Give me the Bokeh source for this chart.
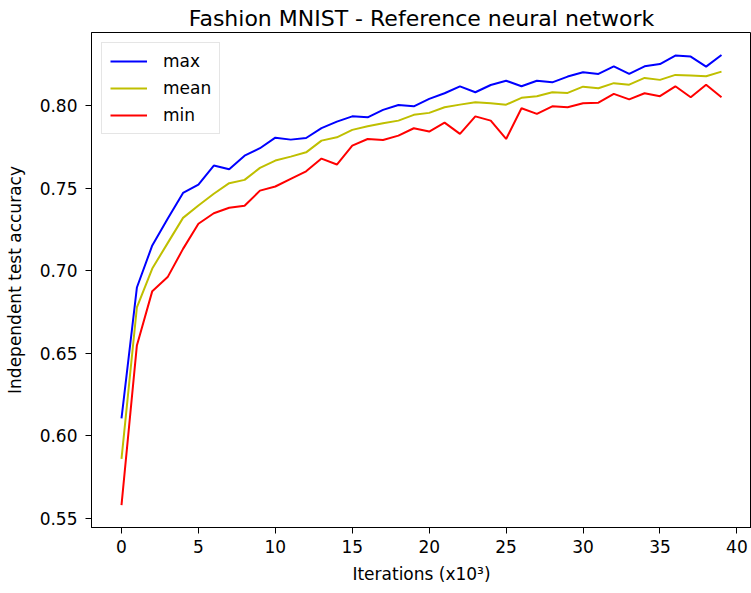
from bokeh.plotting import figure
from bokeh.embed import file_html
from bokeh.resources import INLINE
from bokeh.models import Range1d, SingleIntervalTicker, NumeralTickFormatter, Legend, LegendItem

iterations = list(range(40))
max_acc = [0.6105, 0.6898, 0.7153, 0.7314, 0.7471, 0.7522, 0.7637, 0.7615, 0.7697, 0.7742,
           0.7806, 0.7794, 0.7804, 0.7864, 0.7903, 0.7935, 0.7929, 0.7974, 0.8004, 0.7996,
           0.8041, 0.8075, 0.8117, 0.8081, 0.8125, 0.8151, 0.8117, 0.8151, 0.8141, 0.8176,
           0.8202, 0.8192, 0.8238, 0.8192, 0.8238, 0.8252, 0.8303, 0.8297, 0.8236, 0.8307]
mean_acc = [0.5860, 0.6777, 0.7013, 0.7167, 0.7320, 0.7395, 0.7466, 0.7530, 0.7550, 0.7623,
            0.7667, 0.7691, 0.7717, 0.7788, 0.7808, 0.7853, 0.7875, 0.7893, 0.7909, 0.7944,
            0.7956, 0.7990, 0.8006, 0.8020, 0.8014, 0.8006, 0.8047, 0.8057, 0.8081, 0.8077,
            0.8115, 0.8105, 0.8136, 0.8127, 0.8168, 0.8156, 0.8186, 0.8182, 0.8178, 0.8206]
min_acc = [0.5580, 0.6547, 0.6876, 0.6961, 0.7132, 0.7284, 0.7348, 0.7381, 0.7393, 0.7485,
           0.7510, 0.7556, 0.7602, 0.7679, 0.7643, 0.7758, 0.7798, 0.7792, 0.7818, 0.7863,
           0.7843, 0.7897, 0.7829, 0.7935, 0.7909, 0.7798, 0.7984, 0.7950, 0.7996, 0.7990,
           0.8014, 0.8018, 0.8071, 0.8038, 0.8075, 0.8057, 0.8117, 0.8051, 0.8127, 0.8051]
series_names = ["max", "mean", "min"]
series_colors = ["#0000ff", "#bfbf00", "#ff0000"]

FONT = "DejaVu Sans"

p = figure(width=751, height=593, output_backend="svg", toolbar_location=None,
           x_range=Range1d(-1.95, 40.95), y_range=Range1d(0.5444, 0.8443),
           title="Fashion MNIST - Reference neural network")
p.min_border_left = 91
p.min_border_right = 0
p.min_border_top = 32
p.min_border_bottom = 66

p.title.align = "center"
p.title.text_font = FONT
p.title.text_font_size = "22px"
p.title.text_font_style = "normal"
p.title.text_color = "black"
p.title.standoff = 3

p.xgrid.visible = False
p.ygrid.visible = False
p.outline_line_color = "black"
p.outline_line_width = 1
p.background_fill_color = "white"
p.border_fill_color = "white"

p.xaxis.ticker = SingleIntervalTicker(interval=5, num_minor_ticks=0)
p.yaxis.ticker = SingleIntervalTicker(interval=0.05, num_minor_ticks=0)
p.yaxis.formatter = NumeralTickFormatter(format="0.00")
for ax in (p.xaxis, p.yaxis):
    ax.major_tick_in = 0
    ax.major_tick_out = 6
    ax.minor_tick_in = 0
    ax.minor_tick_out = 0
    ax.axis_line_color = "black"
    ax.major_tick_line_color = "black"
    ax.major_label_text_font = FONT
    ax.major_label_text_font_size = "17px"
    ax.major_label_text_color = "black"
    ax.axis_label_text_font = FONT
    ax.axis_label_text_font_size = "17px"
    ax.axis_label_text_font_style = "normal"
    ax.axis_label_text_color = "black"

p.xaxis.major_label_standoff = 6
p.yaxis.major_label_standoff = 8
p.xaxis.axis_label = "Iterations (x10³)"
p.yaxis.axis_label = "Independent test accuracy"
p.xaxis.axis_label_standoff = 8
p.yaxis.axis_label_standoff = 12

items = []
for name, ys, col in zip(series_names, [max_acc, mean_acc, min_acc], series_colors):
    r = p.line(iterations, ys, line_color=col, line_width=2)
    items.append(LegendItem(label=name, renderers=[r]))

legend = Legend(items=items, location="top_left")
legend.margin = 10
legend.padding = 8
legend.spacing = 7
legend.glyph_width = 37
legend.glyph_height = 20
legend.label_height = 20
legend.label_standoff = 16
legend.label_text_font = FONT
legend.label_text_font_size = "17px"
legend.label_text_color = "black"
legend.border_line_color = "#cccccc"
legend.border_line_width = 1
legend.background_fill_alpha = 0.8
p.add_layout(legend, "center")

open("out.html", "w").write(file_html(p, INLINE))
